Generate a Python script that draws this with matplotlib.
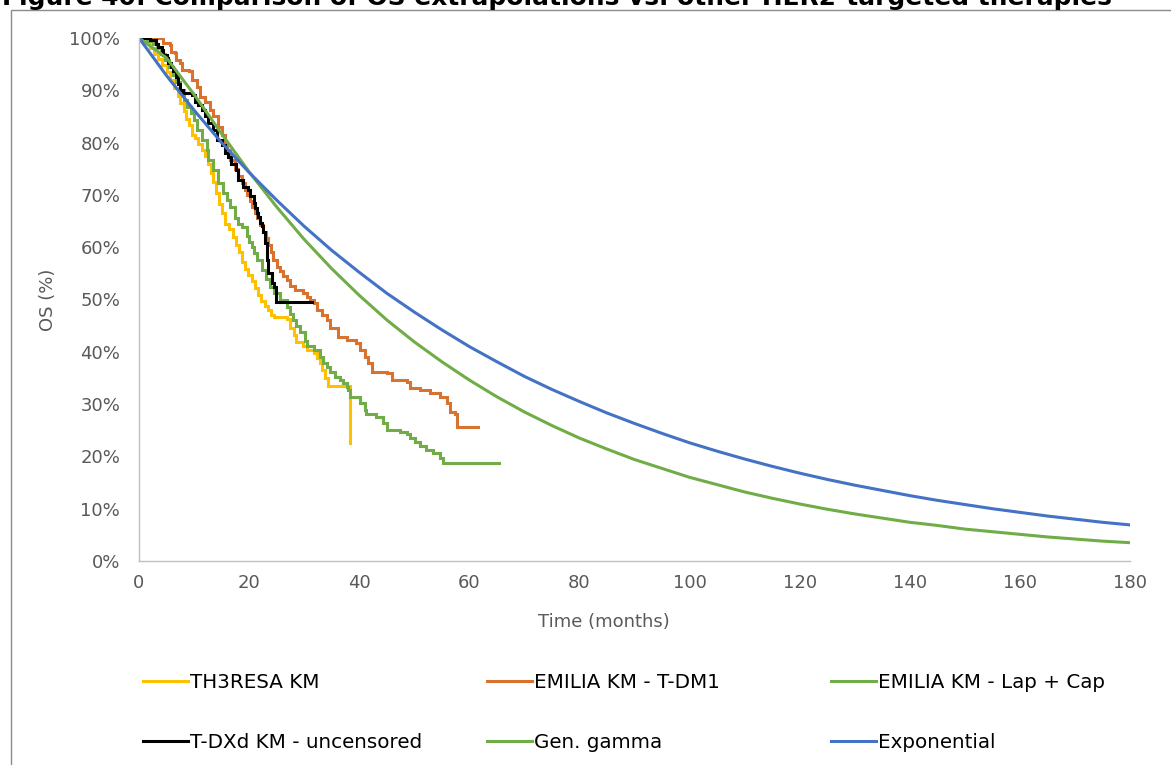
import matplotlib
matplotlib.use("Agg")
import matplotlib.pyplot as plt
from matplotlib.patches import Rectangle
from matplotlib.ticker import FuncFormatter

# ---------------- data ----------------
title = "Figure 40: Comparison of OS extrapolations vs. other HER2-targeted therapies"

x_ticks = [0, 20, 40, 60, 80, 100, 120, 140, 160, 180]
y_ticks = [0, 10, 20, 30, 40, 50, 60, 70, 80, 90, 100]

model_months = [0, 5, 10, 15, 20, 25, 30, 35, 40, 45, 50, 55, 60, 65, 70, 75, 80, 85, 90,
                95, 100, 105, 110, 115, 120, 125, 130, 135, 140, 145, 150, 155, 160, 165,
                170, 175, 180]
gen_gamma_pct = [100.0, 96.2, 89.2, 81.7, 74.4, 67.7, 61.5, 55.9, 50.8, 46.1, 41.9, 38.1,
                 34.6, 31.4, 28.5, 25.9, 23.5, 21.4, 19.4, 17.7, 16.0, 14.6, 13.2, 12.0,
                 10.9, 9.9, 9.0, 8.2, 7.4, 6.8, 6.1, 5.6, 5.1, 4.6, 4.2, 3.8, 3.5]
exponential_pct = [100.0, 92.8, 86.2, 80.0, 74.3, 69.0, 64.0, 59.4, 55.2, 51.2, 47.6, 44.2,
                   41.0, 38.1, 35.3, 32.8, 30.5, 28.3, 26.3, 24.4, 22.6, 21.0, 19.5, 18.1,
                   16.8, 15.6, 14.5, 13.5, 12.5, 11.6, 10.8, 10.0, 9.3, 8.6, 8.0, 7.4, 6.9]

th3resa_km = [(0, 100), (1.0, 99.0), (2.0, 98.0), (2.8, 97.0), (3.5, 96.0), (4.2, 94.8),
              (5.0, 93.5), (5.7, 92.0), (6.4, 90.5), (7.0, 89.0), (7.5, 87.5), (8.1, 86.0),
              (8.6, 84.5), (9.1, 83.3), (9.6, 81.5), (10.2, 80.8), (10.8, 79.8), (11.4, 78.6),
              (12.0, 77.4), (12.5, 76.0), (13.0, 74.2), (13.5, 72.5), (14.0, 70.3),
              (14.5, 68.3), (15.0, 66.5), (15.6, 64.5), (16.3, 63.5), (17.1, 62.0),
              (17.6, 60.5), (18.2, 59.0), (18.7, 57.2), (19.2, 55.8), (19.8, 54.6),
              (20.5, 53.5), (21.0, 52.2), (21.6, 50.8), (22.2, 49.8), (22.8, 48.8),
              (23.4, 48.0), (24.0, 47.0), (24.5, 46.6), (26.8, 46.2), (27.5, 44.5),
              (28.2, 43.2), (28.6, 41.8), (29.8, 41.2), (30.5, 40.3), (31.7, 39.8),
              (32.3, 38.8), (32.8, 37.8), (33.3, 36.5), (33.8, 35.0), (34.4, 33.5),
              (38.3, 22.5)]

emilia_tdm1_km = [(0, 100), (4.4, 99.0), (5.6, 98.7), (5.9, 97.4), (6.5, 97.1), (6.8, 95.8),
                  (7.4, 95.2), (7.8, 93.9), (9.0, 93.6), (9.6, 92.0), (10.5, 90.7),
                  (11.1, 88.8), (12.0, 87.8), (12.9, 86.2), (13.5, 85.0), (14.4, 83.0),
                  (15.0, 81.5), (15.6, 80.0), (15.9, 78.6), (16.5, 76.6), (17.4, 75.0),
                  (18.0, 73.6), (18.7, 72.2), (19.2, 71.0), (19.6, 70.0), (20.2, 68.8),
                  (20.5, 67.7), (21.0, 66.5), (21.4, 65.5), (22.0, 64.2), (22.6, 63.0),
                  (23.1, 61.8), (23.5, 60.4), (24.0, 59.0), (24.4, 57.6), (25.0, 56.3),
                  (25.6, 55.4), (26.2, 54.5), (26.8, 53.7), (27.5, 52.6), (28.3, 51.8),
                  (29.8, 51.2), (30.5, 50.5), (31.1, 49.9), (31.7, 49.3), (32.3, 48.0),
                  (33.2, 47.0), (34.1, 46.1), (34.7, 44.5), (36.2, 42.9), (37.7, 42.3),
                  (39.5, 41.6), (40.1, 40.3), (41.0, 39.1), (41.6, 37.8), (42.3, 36.2),
                  (45.0, 35.9), (45.9, 34.6), (48.6, 34.3), (49.2, 33.0), (51.0, 32.7),
                  (52.9, 32.1), (54.7, 31.4), (55.9, 30.2), (56.5, 28.5), (57.4, 28.2),
                  (57.7, 25.7), (61.6, 25.7)]

emilia_lapcap_km = [(0, 100), (1.5, 99.5), (2.5, 98.8), (3.3, 98.0), (4.0, 97.0), (4.8, 95.8),
                    (5.5, 94.5), (6.2, 93.0), (6.8, 91.5), (7.4, 90.0), (8.1, 88.1),
                    (8.8, 86.8), (9.4, 85.6), (9.9, 84.3), (10.5, 82.4), (11.4, 80.5),
                    (12.3, 78.6), (12.6, 76.7), (13.5, 74.8), (14.4, 72.2), (15.3, 70.3),
                    (16.0, 69.0), (16.5, 67.7), (17.4, 65.5), (18.0, 64.5), (18.7, 63.9),
                    (19.6, 62.2), (20.0, 61.0), (20.5, 60.0), (20.8, 58.8), (21.4, 57.5),
                    (22.3, 55.6), (23.0, 54.0), (23.8, 52.4), (24.6, 51.2), (25.6, 49.9),
                    (26.8, 48.6), (27.4, 47.3), (28.0, 46.1), (28.6, 45.0), (29.2, 43.8),
                    (30.1, 42.0), (30.5, 41.2), (31.7, 40.3), (32.9, 39.1), (33.5, 37.8),
                    (34.1, 37.0), (34.7, 36.2), (35.6, 35.2), (36.5, 34.6), (37.1, 34.0),
                    (37.7, 33.3), (38.0, 32.7), (38.3, 31.4), (40.1, 30.2), (41.0, 28.9),
                    (41.3, 28.2), (43.1, 27.6), (44.4, 26.3), (45.0, 25.0), (47.4, 24.7),
                    (48.6, 24.2), (49.2, 23.5), (50.2, 22.8), (51.0, 21.9), (52.2, 21.2),
                    (53.4, 20.6), (54.7, 19.6), (55.3, 18.7), (65.3, 18.7)]

tdxd_km = [(0, 100), (2.0, 99.6), (3.0, 98.8), (3.5, 98.3), (4.1, 97.7), (4.4, 96.7),
           (5.0, 96.1), (5.3, 95.2), (5.9, 94.5), (6.2, 93.6), (6.8, 92.6), (7.1, 91.3),
           (7.4, 90.1), (8.0, 89.4), (9.6, 89.1), (10.2, 87.8), (10.8, 87.2), (11.4, 86.2),
           (12.0, 85.0), (12.6, 83.7), (13.5, 82.4), (14.1, 80.5), (15.0, 79.5),
           (15.6, 78.0), (16.2, 77.2), (16.8, 76.0), (17.7, 74.8), (18.0, 72.8),
           (18.9, 71.6), (19.8, 70.9), (20.2, 69.7), (20.8, 68.4), (21.1, 67.4),
           (21.4, 66.6), (21.7, 65.8), (22.0, 64.6), (22.3, 64.0), (22.6, 63.0),
           (22.9, 60.8), (23.2, 57.6), (23.5, 55.0), (24.1, 53.1), (24.6, 52.4),
           (24.8, 49.5), (31.4, 49.5)]

labels = ["TH3RESA KM", "EMILIA KM - T-DM1", "EMILIA KM - Lap + Cap",
          "T-DXd KM - uncensored", "Gen. gamma", "Exponential"]
colors = ["#FFC000", "#D9722E", "#70AD47", "#000000", "#70AD47", "#4472C4"]

# ---------------- figure ----------------
W, H = 1171, 765
fig = plt.figure(figsize=(W / 100, H / 100), dpi=100)
fig.patch.set_facecolor("white")

def fx(px):
    return px / W

def fy(py):
    return 1 - py / H

# outer frame (only left and top edges visible)
fig.add_artist(Rectangle((fx(11), -1.0), 2.0, fy(10) + 1.0, transform=fig.transFigure,
                         fill=False, edgecolor="#8C8C8C", linewidth=1.0))

# title, cut off at the very top as in the source document
title_txt = fig.text(fx(2), fy(5), title, fontsize=16.5, fontweight="bold", color="black",
                     family="DejaVu Sans", ha="left", va="baseline")
renderer = fig.canvas.get_renderer()
tw = title_txt.get_window_extent(renderer).width
title_txt.set_fontsize(16.5 * 1103 / tw)

ax = fig.add_axes([fx(139), fy(561), fx(1130) - fx(139), fy(38) - fy(561)])

lw = 2.2
handles = []
km_sets = [th3resa_km, emilia_tdm1_km, emilia_lapcap_km, tdxd_km]
for i, km in enumerate(km_sets):
    t = [p[0] for p in km]
    s = [p[1] for p in km]
    h, = ax.step(t, s, where="post", color=colors[i], lw=lw, label=labels[i],
                 solid_joinstyle="miter")
    handles.append(h)
h, = ax.plot(model_months, gen_gamma_pct, color=colors[4], lw=lw, label=labels[4])
handles.append(h)
h, = ax.plot(model_months, exponential_pct, color=colors[5], lw=lw, label=labels[5])
handles.append(h)

ax.set_xlim(0, 180)
ax.set_ylim(0, 100)
ax.set_xticks(x_ticks)
ax.set_yticks(y_ticks)
ax.yaxis.set_major_formatter(FuncFormatter(lambda v, p: f"{v:.0f}%"))
for sp in ["top", "right"]:
    ax.spines[sp].set_visible(False)
for sp in ["left", "bottom"]:
    ax.spines[sp].set_color("#BFBFBF")
    ax.spines[sp].set_linewidth(1.0)
ax.tick_params(axis="both", length=0, labelsize=13, labelcolor="#595959")
ax.tick_params(axis="y", pad=13.5)
ax.tick_params(axis="x", pad=9)

fig.text(fx(48), fy(300), "OS (%)", rotation=90, fontsize=13, color="#595959",
         ha="center", va="center")
fig.text(fx(604), fy(622), "Time (months)", fontsize=13, color="#595959",
         ha="center", va="center")

# legend: 2 rows x 3 columns, equal column widths
leg_fs = 14.3
px_per_fs = leg_fs * 100 / 72
col_x = [143, 487, 831]
row_y = [682, 742]
for i, hdl in enumerate(handles):
    r, c = divmod(i, 3)
    leg = fig.legend([hdl], [labels[i]], loc="center left",
                     bbox_to_anchor=(fx(col_x[c]), fy(row_y[r])),
                     bbox_transform=fig.transFigure, frameon=False,
                     borderpad=0, borderaxespad=0, handlelength=45 / px_per_fs,
                     handletextpad=2 / px_per_fs, fontsize=leg_fs)
    for txt in leg.get_texts():
        txt.set_color("black")

fig.savefig("out.png", dpi=100, facecolor="white")
